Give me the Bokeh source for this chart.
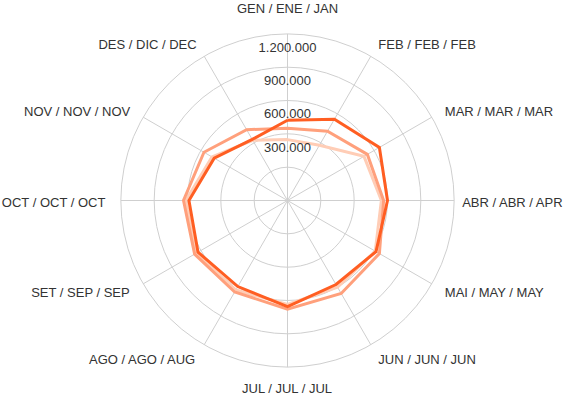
import numpy as np
from bokeh.plotting import figure
from bokeh.models import Range1d, ColumnDataSource
from bokeh.embed import file_html
from bokeh.resources import INLINE
from bokeh.core.properties import value

# ---------------- data ----------------
months = ["GEN / ENE / JAN", "FEB / FEB / FEB", "MAR / MAR / MAR", "ABR / ABR / APR",
          "MAI / MAY / MAY", "JUN / JUN / JUN", "JUL / JUL / JUL", "AGO / AGO / AUG",
          "SET / SEP / SEP", "OCT / OCT / OCT", "NOV / NOV / NOV", "DES / DIC / DEC"]

series_light = [548000, 575000, 795000, 845000, 912000, 900000,
                935000, 930000, 945000, 915000, 785000, 625000]
series_medium = [650000, 720000, 830000, 865000, 955000, 966000,
                 978000, 951000, 965000, 936000, 868000, 736000]
series_dark = [722000, 845000, 955000, 900000, 920000, 873000,
               955000, 894000, 930000, 887000, 762000, 635000]

tick_values = [300000, 600000, 900000, 1200000, 1500000]
tick_labels = ["300.000", "600.000", "900.000", "1.200.000", ""]

# ---------------- layout ----------------
W, H = 564, 396
CX, CY = 287.0, 200.0              # centre of the radar in canvas pixels
PX = 300000 / 33.333               # value units per pixel
R_MAX = tick_values[-1]

p = figure(width=W, height=H, output_backend="svg", toolbar_location=None,
           x_range=Range1d(-CX * PX, (W - CX) * PX),
           y_range=Range1d(-(H - CY) * PX, CY * PX),
           min_border=0, outline_line_color=None)
p.xaxis.visible = False
p.yaxis.visible = False
p.grid.visible = False
p.background_fill_color = "white"
p.border_fill_color = "white"

n = len(months)
theta = np.arange(n) * 2 * np.pi / n   # from top, clockwise
sin_t, cos_t = np.sin(theta), np.cos(theta)

GRID = "#cfcfcf"
# circles
p.circle(x=[0] * len(tick_values), y=[0] * len(tick_values), radius=tick_values,
         fill_color=None, line_color=GRID, line_width=1)
# spokes
p.segment(x0=[0] * n, y0=[0] * n, x1=list(R_MAX * sin_t), y1=list(R_MAX * cos_t),
          line_color=GRID, line_width=1)

# series
for vals, col in [(series_light, "#FFCDB6"), (series_medium, "#FFA07C"), (series_dark, "#FF5E22")]:
    v = np.array(vals + vals[:1], dtype=float)
    t = np.concatenate([theta, theta[:1]])
    p.line(x=v * np.sin(t), y=v * np.cos(t), line_color=col, line_width=3, line_join="miter")

FONT = value("Liberation Sans")
TXT = "#333333"

# tick labels
tsrc = ColumnDataSource(dict(x=[0] * 4, y=tick_values[:4], t=tick_labels[:4]))
p.text(x="x", y="y", text="t", source=tsrc, text_font=FONT, text_font_size="13px",
       text_color=TXT, text_align="center", text_baseline="middle", y_offset=-20)

# month labels
GAP = 15
for i, lab in enumerate(months):
    s, c = sin_t[i], cos_t[i]
    if abs(s) < 1e-6:
        align = "center"
        yo = -25 if c > 0 else 21
    else:
        align = "left" if s > 0 else "right"
        yo = -GAP * c + 1.5
    g = GAP
    if abs(c) < 1e-6 and s > 0:      # right-most label: keep it inside the canvas
        g = 8
    xo = g * s
    p.text(x=[R_MAX * s], y=[R_MAX * c], text=[lab], text_font=FONT, text_font_size="13px",
           text_color=TXT, text_align=align, text_baseline="middle",
           x_offset=xo, y_offset=yo)

open("out.html", "w").write(file_html(p, INLINE))
